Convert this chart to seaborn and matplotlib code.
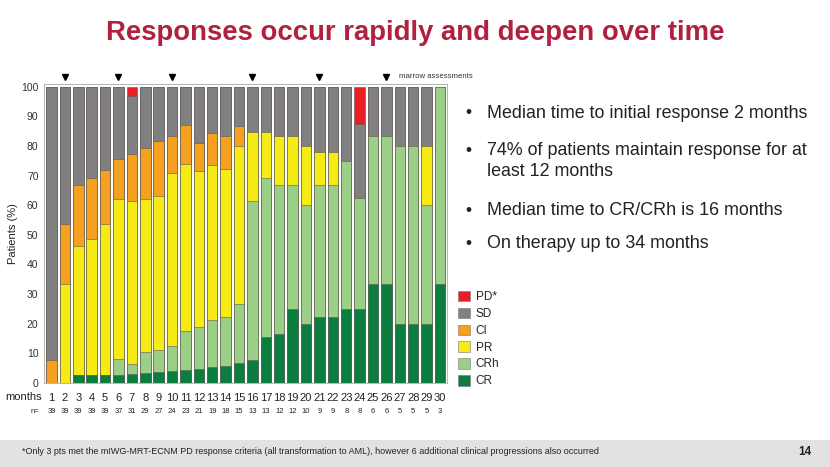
import numpy as np
import pandas as pd
import matplotlib
matplotlib.use("Agg")
import matplotlib.pyplot as plt
import seaborn as sns
from matplotlib.patches import Patch, Rectangle

# months and number of patients assessed
months = list(range(1, 31))
n_pts = [39, 39, 39, 39, 39, 37, 31, 29, 27, 24, 23, 21, 19, 18, 15,
         13, 13, 12, 12, 10, 9, 9, 8, 8, 6, 6, 5, 5, 5, 3]

# % of patients in each response category (bottom to top)
cr = [0, 0, 2.6, 2.6, 2.6, 2.7, 3.2, 3.4, 3.7, 4.2, 4.3, 4.8, 5.3, 5.6, 6.7,
      7.7, 15.4, 16.7, 25.0, 20.0, 22.2, 22.2, 25.0, 25.0, 33.3, 33.3, 20.0, 20.0, 20.0, 33.3]
crh = [0, 0, 0, 0, 0, 5.4, 3.3, 6.9, 7.4, 8.3, 13.1, 14.2, 15.8, 16.6, 20.0,
       53.8, 53.8, 50.0, 41.7, 40.0, 44.5, 44.5, 50.0, 37.5, 50.0, 50.0, 60.0, 60.0, 40.0, 66.7]
pr = [0, 33.3, 43.6, 46.1, 51.2, 54.1, 54.8, 51.8, 51.9, 58.3, 56.5, 52.4, 52.6, 50.0, 53.3,
      23.1, 15.4, 16.6, 16.6, 20.0, 11.1, 11.1, 0, 0, 0, 0, 0, 0, 20.0, 0]
ci = [7.7, 20.5, 20.5, 20.5, 18.0, 13.5, 16.1, 17.2, 18.5, 12.5, 13.1, 9.6, 10.5, 11.1, 6.7,
      0, 0, 0, 0, 0, 0, 0, 0, 0, 0, 0, 0, 0, 0, 0]
sd = [92.3, 46.2, 33.3, 30.8, 28.2, 24.3, 19.4, 20.7, 18.5, 16.7, 13.0, 19.0, 15.8, 16.7, 13.3,
      15.4, 15.4, 16.7, 16.7, 20.0, 22.2, 22.2, 25.0, 25.0, 16.7, 16.7, 20.0, 20.0, 20.0, 0]
pd_ = [0, 0, 0, 0, 0, 0, 3.2, 0, 0, 0, 0, 0, 0, 0, 0,
       0, 0, 0, 0, 0, 0, 0, 0, 12.5, 0, 0, 0, 0, 0, 0]

categories = ["CR", "CRh", "PR", "CI", "SD", "PD*"]
colors = ["#0B7D3E", "#9BCF87", "#F6EB14", "#F5A01E", "#808080", "#EC1C24"]
marrow_months = [2, 6, 10, 16, 21, 26]

bullets = [
    "Median time to initial response 2 months",
    "74% of patients maintain response for at\nleast 12 months",
    "Median time to CR/CRh is 16 months",
    "On therapy up to 34 months",
]

sns.set_theme(style="white")
plt.rcParams["font.family"] = ["Liberation Sans", "DejaVu Sans"]

fig = plt.figure(figsize=(8.3, 4.67), dpi=100)
ax = fig.add_axes([44 / 830, 1 - 383 / 467, 403 / 830, 299.3 / 467])

stack = np.array([cr, crh, pr, ci, sd, pd_])
cum = np.cumsum(stack, axis=0)
df = pd.DataFrame(cum.T, columns=categories)
df["month"] = [str(m) for m in months]

# draw cumulative totals from top category down so they stack
for i in range(len(categories) - 1, -1, -1):
    sns.barplot(data=df, x="month", y=categories[i], color=colors[i], ax=ax,
                width=0.78, edgecolor="#5a5a5a", linewidth=0.4, errorbar=None,
                saturation=1)

ax.set_xlim(-0.56, 29.52)
ax.set_ylim(0, 101)
ax.set_yticks(range(0, 101, 10))
ax.tick_params(axis="y", labelsize=7.5, length=2, pad=2, colors="#333333")
ax.tick_params(axis="x", labelsize=8, length=0, pad=7, colors="#222222")
ax.set_xlabel("")
ax.set_ylabel("Patients (%)", fontsize=8, labelpad=2, color="#222222")
for s in ax.spines.values():
    s.set_color("#b8b8b8")
    s.set_linewidth(0.8)

# months / n= rows
tr = ax.get_xaxis_transform()
ax.text(-0.75, -0.047, "months", transform=tr, ha="right", va="center", fontsize=8, color="#222222")
ax.text(-0.9, -0.094, "n=", transform=tr, ha="right", va="center", fontsize=5.5, color="#222222")
for i, n in enumerate(n_pts):
    ax.text(i, -0.094, str(n), transform=tr, ha="center", va="center", fontsize=5.5, color="#222222")

# marrow assessment markers
ax.plot([m - 1 for m in marrow_months], [103.3] * len(marrow_months), "v",
        color="black", markersize=5, clip_on=False)
ax.text(marrow_months[-1] - 1 + 0.9, 103.3, "marrow assessments", ha="left", va="center",
        fontsize=5.6, color="#333333")

# legend
handles = [Patch(facecolor=colors[i], edgecolor="#777777", linewidth=0.4, label=categories[i])
           for i in range(len(categories) - 1, -1, -1)]
fig.legend(handles=handles, loc="upper left", bbox_to_anchor=(452 / 830, 1 - 285 / 467),
           frameon=False, fontsize=8.5, handlelength=1.0, handleheight=1.0,
           handletextpad=0.5, labelspacing=0.38, borderpad=0)

# title
fig.text(0.5, 1 - 33 / 467, "Responses occur rapidly and deepen over time", ha="center",
         va="center", fontsize=19.8, fontweight="bold", color="#B1203F")

# bullet text
ys = [113, 161, 210, 244]
bullet_ys = [113, 150, 210, 244]
for y, by, b in zip(ys, bullet_ys, bullets):
    fig.text(465 / 830, 1 - by / 467, "•", ha="left", va="center", fontsize=12.5, color="#222222")
    fig.text(487 / 830, 1 - y / 467, b, ha="left", va="center", fontsize=12.9,
             color="#222222", linespacing=1.3)

# footnote band
fig.patches.append(Rectangle((0, 0), 1, 27 / 467, transform=fig.transFigure,
                             facecolor="#E2E2E2", edgecolor="none", zorder=0))
fig.text(22 / 830, 1 - 451 / 467,
         "*Only 3 pts met the mIWG-MRT-ECNM PD response criteria (all transformation to AML), "
         "however 6 additional clinical progressions also occurred",
         ha="left", va="center", fontsize=6.45, color="#222222")
fig.text(805 / 830, 1 - 452 / 467, "14", ha="center", va="center", fontsize=8.5,
         fontweight="bold", color="#222222")

fig.savefig("out.png", dpi=100)
